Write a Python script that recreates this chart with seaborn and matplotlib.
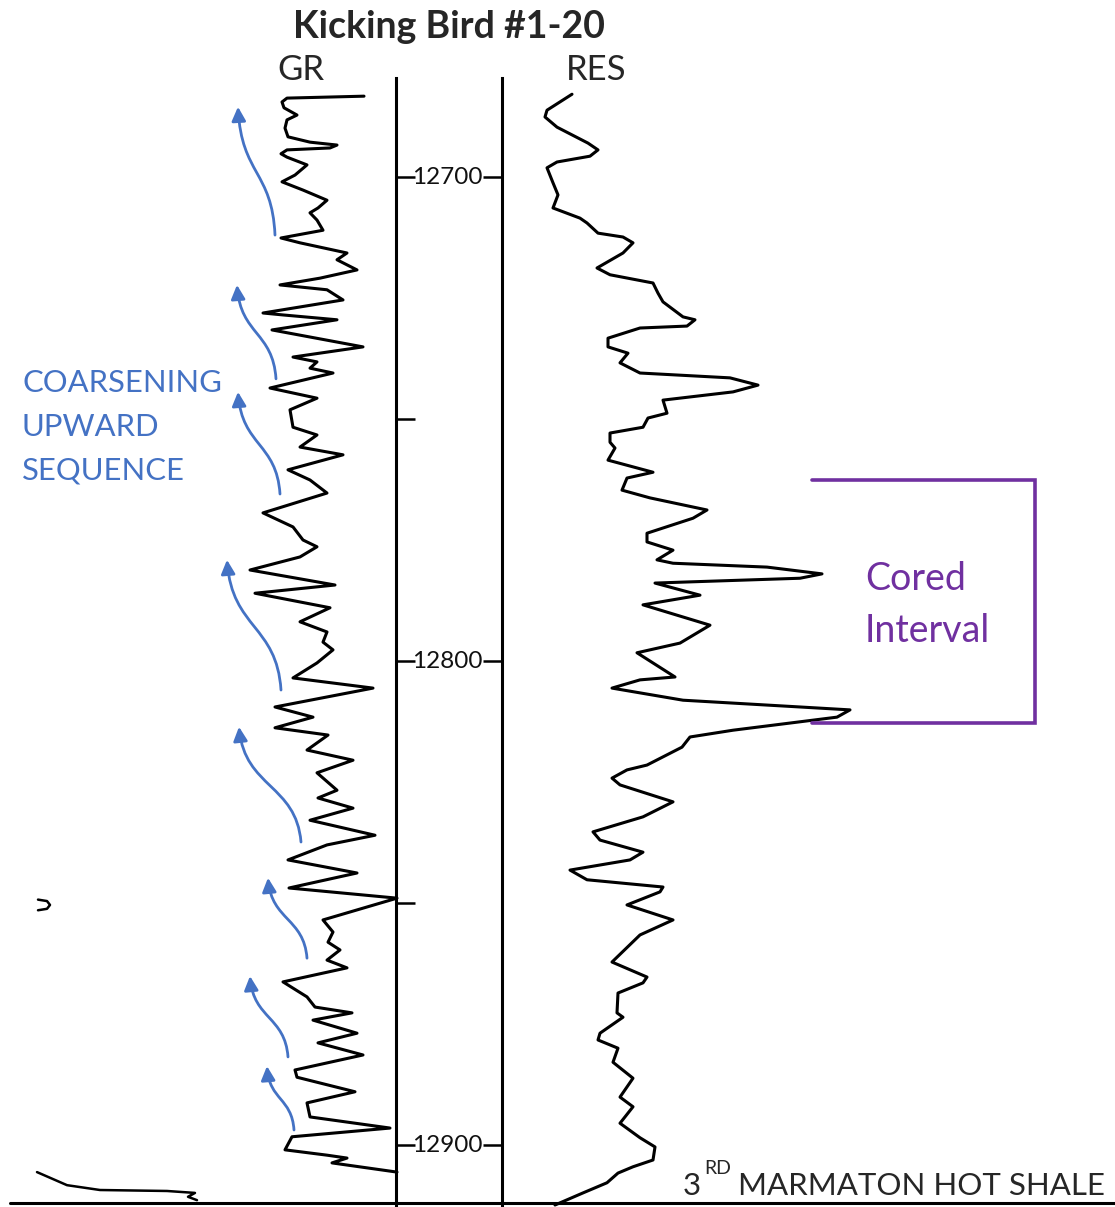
import matplotlib
matplotlib.use("Agg")
import numpy as np
import pandas as pd
import matplotlib.pyplot as plt
import seaborn as sns
from matplotlib.path import Path
from matplotlib.patches import FancyArrowPatch
from matplotlib.lines import Line2D
import matplotlib.transforms as mtransforms

# ------------------------------------------------------------------ data
title = "Kicking Bird #1-20"
gr_label = "GR"
res_label = "RES"
annotation_lines = ["COARSENING", "UPWARD", "SEQUENCE"]
cored_lines = ["Cored", "Interval"]
formation_prefix = "3"
formation_sup = "RD"
formation_name = "MARMATON HOT SHALE"

depth_major = [12700, 12800, 12900]
depth_minor = [12750, 12850]

# Gamma ray (API) vs depth (ft)
gr_depth = [12683.3, 12683.7, 12684.5, 12685.7, 12687.2, 12688.2, 12689.9, 12691.7, 12692.8, 12693.4,
            12694.0, 12694.4, 12695.2, 12695.9, 12697.5, 12699.6, 12701.0, 12702.7, 12704.8, 12706.4,
            12707.4, 12708.9, 12711.0, 12712.6, 12713.6, 12715.7, 12717.1, 12719.2, 12720.9, 12722.3,
            12723.3, 12725.4, 12728.1, 12728.5, 12729.5, 12731.6, 12735.1, 12737.2, 12738.2, 12739.5,
            12740.5, 12743.6, 12745.7, 12748.1, 12751.7, 12753.3, 12755.8, 12757.4, 12760.5, 12762.6,
            12765.3, 12769.4, 12772.3, 12775.0, 12776.4, 12778.5, 12781.2, 12784.3, 12786.0, 12789.0,
            12791.9, 12794.0, 12796.1, 12797.7, 12800.4, 12803.5, 12805.6, 12809.5, 12811.6, 12813.8,
            12815.3, 12818.4, 12820.5, 12823.1, 12826.7, 12828.3, 12830.4, 12832.9, 12836.0, 12838.0,
            12841.1, 12843.8, 12846.9, 12849.0, 12853.5, 12856.0, 12858.1, 12859.7, 12861.8, 12863.4,
            12866.3, 12869.4, 12871.5, 12872.7, 12874.2, 12876.9, 12878.9, 12881.4, 12884.5, 12886.0,
            12889.0, 12891.3, 12894.2, 12896.5, 12898.3, 12901.0, 12902.1, 12902.7, 12903.7, 12905.6]
gr_api = [114, 37, 32, 34, 47, 37, 35, 38, 60, 87,
          80, 37, 31, 37, 57, 45, 32, 53, 77, 68,
          60, 67, 73, 31, 50, 97, 87, 107, 70, 30,
          77, 93, 13, 33, 87, 22, 113, 43, 67, 60,
          83, 20, 67, 40, 43, 67, 50, 93, 38, 60,
          77, 13, 43, 53, 67, 50, 0, 85, 5, 80,
          50, 77, 73, 83, 67, 43, 123, 25, 63, 25,
          78, 57, 103, 67, 87, 68, 103, 60, 125, 77,
          38, 107, 39, 147, 73, 83, 78, 90, 77, 97,
          33, 57, 65, 102, 63, 107, 68, 113, 45, 47,
          105, 57, 60, 140, 42, 35, 77, 97, 82, 147]

# Resistivity (ohm-m) vs depth (ft)
res_depth = [12682.9, 12686.2, 12687.6, 12689.7, 12693.0, 12694.4, 12695.7, 12696.9, 12698.1, 12701.2,
             12703.7, 12706.4, 12708.5, 12709.5, 12711.6, 12712.4, 12713.6, 12715.7, 12718.8, 12720.2,
             12721.9, 12724.0, 12725.8, 12728.9, 12729.5, 12730.8, 12731.2, 12733.3, 12735.1, 12736.4,
             12738.4, 12740.5, 12741.5, 12743.0, 12744.4, 12746.1, 12748.8, 12749.8, 12751.7, 12752.9,
             12754.8, 12756.0, 12758.5, 12761.0, 12762.2, 12764.7, 12766.3, 12768.8, 12770.5, 12773.6,
             12775.4, 12777.1, 12779.1, 12779.8, 12780.6, 12782.0, 12782.9, 12783.7, 12783.9, 12786.4,
             12788.4, 12792.6, 12796.3, 12798.3, 12803.3, 12803.9, 12805.6, 12808.1, 12809.5, 12810.1,
             12811.6, 12814.3, 12815.7, 12817.8, 12821.5, 12822.5, 12824.2, 12825.6, 12829.1, 12832.2,
             12835.3, 12837.0, 12839.5, 12841.1, 12843.2, 12845.2, 12846.7, 12847.7, 12850.4, 12853.5,
             12856.6, 12862.2, 12865.3, 12866.5, 12868.6, 12872.7, 12873.6, 12876.9, 12878.3, 12880.0,
             12882.9, 12886.2, 12890.1, 12892.1, 12895.5, 12898.5, 12900.4, 12903.1, 12904.5, 12905.8,
             12907.8, 12909.9, 12912.4]
res_ohmm = [7.0, 4.5, 4.3, 5.5, 8.6, 9.6, 8.8, 5.5, 4.5, 5.1,
            5.6, 5.1, 7.8, 8.5, 9.6, 12.1, 13.1, 12.1, 9.5, 10.8,
            15.1, 15.6, 16.1, 18.1, 19.3, 18.5, 13.8, 10.6, 10.6, 12.6,
            11.8, 13.8, 22.8, 25.6, 23.1, 16.1, 16.5, 14.6, 14.1, 10.8,
            10.8, 11.3, 10.6, 15.1, 12.5, 12.0, 14.8, 20.5, 19.1, 14.5,
            14.5, 17.1, 15.5, 17.1, 26.5, 32.0, 29.8, 18.1, 15.3, 19.8,
            14.1, 20.8, 17.8, 13.5, 17.3, 13.8, 11.0, 18.1, 29.8, 34.8,
            33.5, 23.1, 18.8, 18.0, 14.5, 12.5, 11.0, 11.8, 17.1, 14.1,
            9.1, 9.8, 14.1, 12.8, 6.8, 8.5, 16.1, 15.8, 12.5, 17.1,
            13.8, 11.0, 14.5, 14.1, 11.6, 11.5, 12.1, 9.8, 9.6, 11.6,
            11.1, 13.1, 11.8, 13.1, 11.8, 13.8, 15.3, 15.1, 13.1, 11.6,
            10.5, 8.1, 5.3]

# cut-off fragments of a neighbouring track (GR-track units)
side_curve_depth = [12905.6, 12908.3, 12909.3, 12909.5, 12909.9, 12910.7, 12911.4]
side_curve_val = [-213, -183, -150, -83, -55, -62, -53]
side_mark_depth = [12849.3, 12849.6, 12850.4, 12851.2, 12851.5]
side_mark_val = [-212, -203, -200, -203, -212]

# coarsening-upward arrows (GR units, depth)
arrow_tail_gr = [25, 26, 30, 31, 51, 57, 38, 44]
arrow_tail_depth = [12712.0, 12741.7, 12765.5, 12806.0, 12837.4, 12861.4, 12881.8, 12896.9]
arrow_head_gr = [-12, -13, -12, -23, -11, 18, 0, 17]
arrow_head_depth = [12685.5, 12722.3, 12744.4, 12779.1, 12813.6, 12844.8, 12865.1, 12883.7]

# cored interval (ft)
cored_top = 12762.6
cored_base = 12812.8

assert len(gr_depth) == len(gr_api)
assert len(res_depth) == len(res_ohmm)

gr_df = pd.DataFrame({"depth": gr_depth, "GR": gr_api})
res_df = pd.DataFrame({"depth": res_depth, "RES": res_ohmm})

# ------------------------------------------------------------------ style
sns.set_theme(style="white")
plt.rcParams["font.family"] = ["Lato", "DejaVu Sans"]

BLUE = "#4472C4"
PURPLE = "#7030A0"
W, H = 1115, 1207
LW = 2.2

fig = plt.figure(figsize=(W / 100, H / 100), dpi=100)
fig.patch.set_facecolor("white")

# depth scale: 12700 ft at y=177 px, 4.84 px per ft
D_TOP = 12700 - 177 / 4.84
D_BOT = 12700 + (H - 177) / 4.84
D_TRACK_TOP = 12700 - (177 - 78) / 4.84

def fx(px):
    return px / W

def fy(py):
    return 1 - py / H

# tracks
ax_gr = fig.add_axes([0, 0, fx(396), 1])
ax_dp = fig.add_axes([fx(396), 0, fx(502 - 396), (H - 78) / H])
ax_res = fig.add_axes([fx(502), 0, fx(W - 502), 1])

for ax in (ax_gr, ax_res):
    ax.set_ylim(D_BOT, D_TOP)
    ax.axis("off")
    ax.patch.set_visible(False)
ax_gr.set_xlim(-250, 146)
ax_res.set_xlim(0, 61.3)

curve_kw = dict(solid_joinstyle="round", solid_capstyle="round", clip_on=False)

# GR curve
sns.lineplot(data=gr_df, x="GR", y="depth", ax=ax_gr, sort=False, orient="y",
             estimator=None, color="black", lw=LW, legend=False, **curve_kw)
# fragments of neighbouring track
ax_gr.plot(side_curve_val, side_curve_depth, color="black", lw=1.8, **curve_kw)
ax_gr.plot(side_mark_val, side_mark_depth, color="black", lw=1.8, **curve_kw)

# arrows
for xt, yt, xh, yh in zip(arrow_tail_gr, arrow_tail_depth, arrow_head_gr, arrow_head_depth):
    dx, dy = xh - xt, yh - yt
    verts = [(xt, yt), (xt + 0.08 * dx, yt + 0.5 * dy), (xt + 0.9 * dx, yt + 0.47 * dy), (xh, yh)]
    p = Path(verts, [Path.MOVETO, Path.CURVE4, Path.CURVE4, Path.CURVE4])
    arr = FancyArrowPatch(path=p, arrowstyle="-|>", mutation_scale=21,
                          color=BLUE, lw=2.0, transform=ax_gr.transData, clip_on=False)
    ax_gr.add_patch(arr)

# RES curve
sns.lineplot(data=res_df, x="RES", y="depth", ax=ax_res, sort=False, orient="y",
             estimator=None, color="black", lw=LW, legend=False, **curve_kw)

# cored interval bracket
ax_res.plot([31.0, 53.3, 53.3, 31.0], [cored_top, cored_top, cored_base, cored_base],
            color=PURPLE, lw=2.6, solid_joinstyle="miter", clip_on=False)

# depth track
ax_dp.set_ylim(D_BOT, D_TRACK_TOP)
ax_dp.set_xlim(0, 1)
ax_dp.patch.set_visible(False)
ax_dp.set_xticks([])
ax_dp.set_yticks(depth_major)
ax_dp.set_yticks(depth_minor, minor=True)
for s in ("top", "bottom"):
    ax_dp.spines[s].set_visible(False)
for s in ("left", "right"):
    ax_dp.spines[s].set_visible(True)
    ax_dp.spines[s].set_linewidth(LW)
    ax_dp.spines[s].set_color("black")
ax_dp.tick_params(axis="y", which="major", direction="in", left=True, right=True,
                  length=14, width=1.8, color="black", labelleft=False, labelright=False)
ax_dp.tick_params(axis="y", which="minor", direction="in", left=True, right=False,
                  length=14, width=1.8, color="black")
blend = mtransforms.blended_transform_factory(ax_dp.transAxes, ax_dp.transData)
for d in depth_major:
    ax_dp.text(0.485, d, f"{d}", transform=blend, ha="center", va="center",
               fontsize=17.5, color="#111111")

# bottom base line
fig.add_artist(Line2D([fx(10), 1], [fy(1203)] * 2, color="black", lw=LW))

# ------------------------------------------------------------------ text
fig.text(fx(449), fy(38), title, ha="center", va="baseline", fontsize=27, fontweight="bold")
fig.text(fx(301), fy(80), gr_label, ha="center", va="baseline", fontsize=25)
fig.text(fx(596), fy(80), res_label, ha="center", va="baseline", fontsize=25)

for line, base in zip(annotation_lines, [392, 436, 480]):
    fig.text(fx(22), fy(base), line, ha="left", va="baseline", fontsize=22.3, color=BLUE)

for line, base in zip(cored_lines, [590, 642]):
    fig.text(fx(865), fy(base), line, ha="left", va="baseline", fontsize=27, color=PURPLE)

fig.text(fx(683), fy(1195), formation_prefix, ha="left", va="baseline", fontsize=22.5)
fig.text(fx(704), fy(1174), formation_sup, ha="left", va="baseline", fontsize=14)
fig.text(fx(1105), fy(1195), formation_name, ha="right", va="baseline", fontsize=22.5)

fig.savefig("out.png", dpi=100, facecolor="white")
